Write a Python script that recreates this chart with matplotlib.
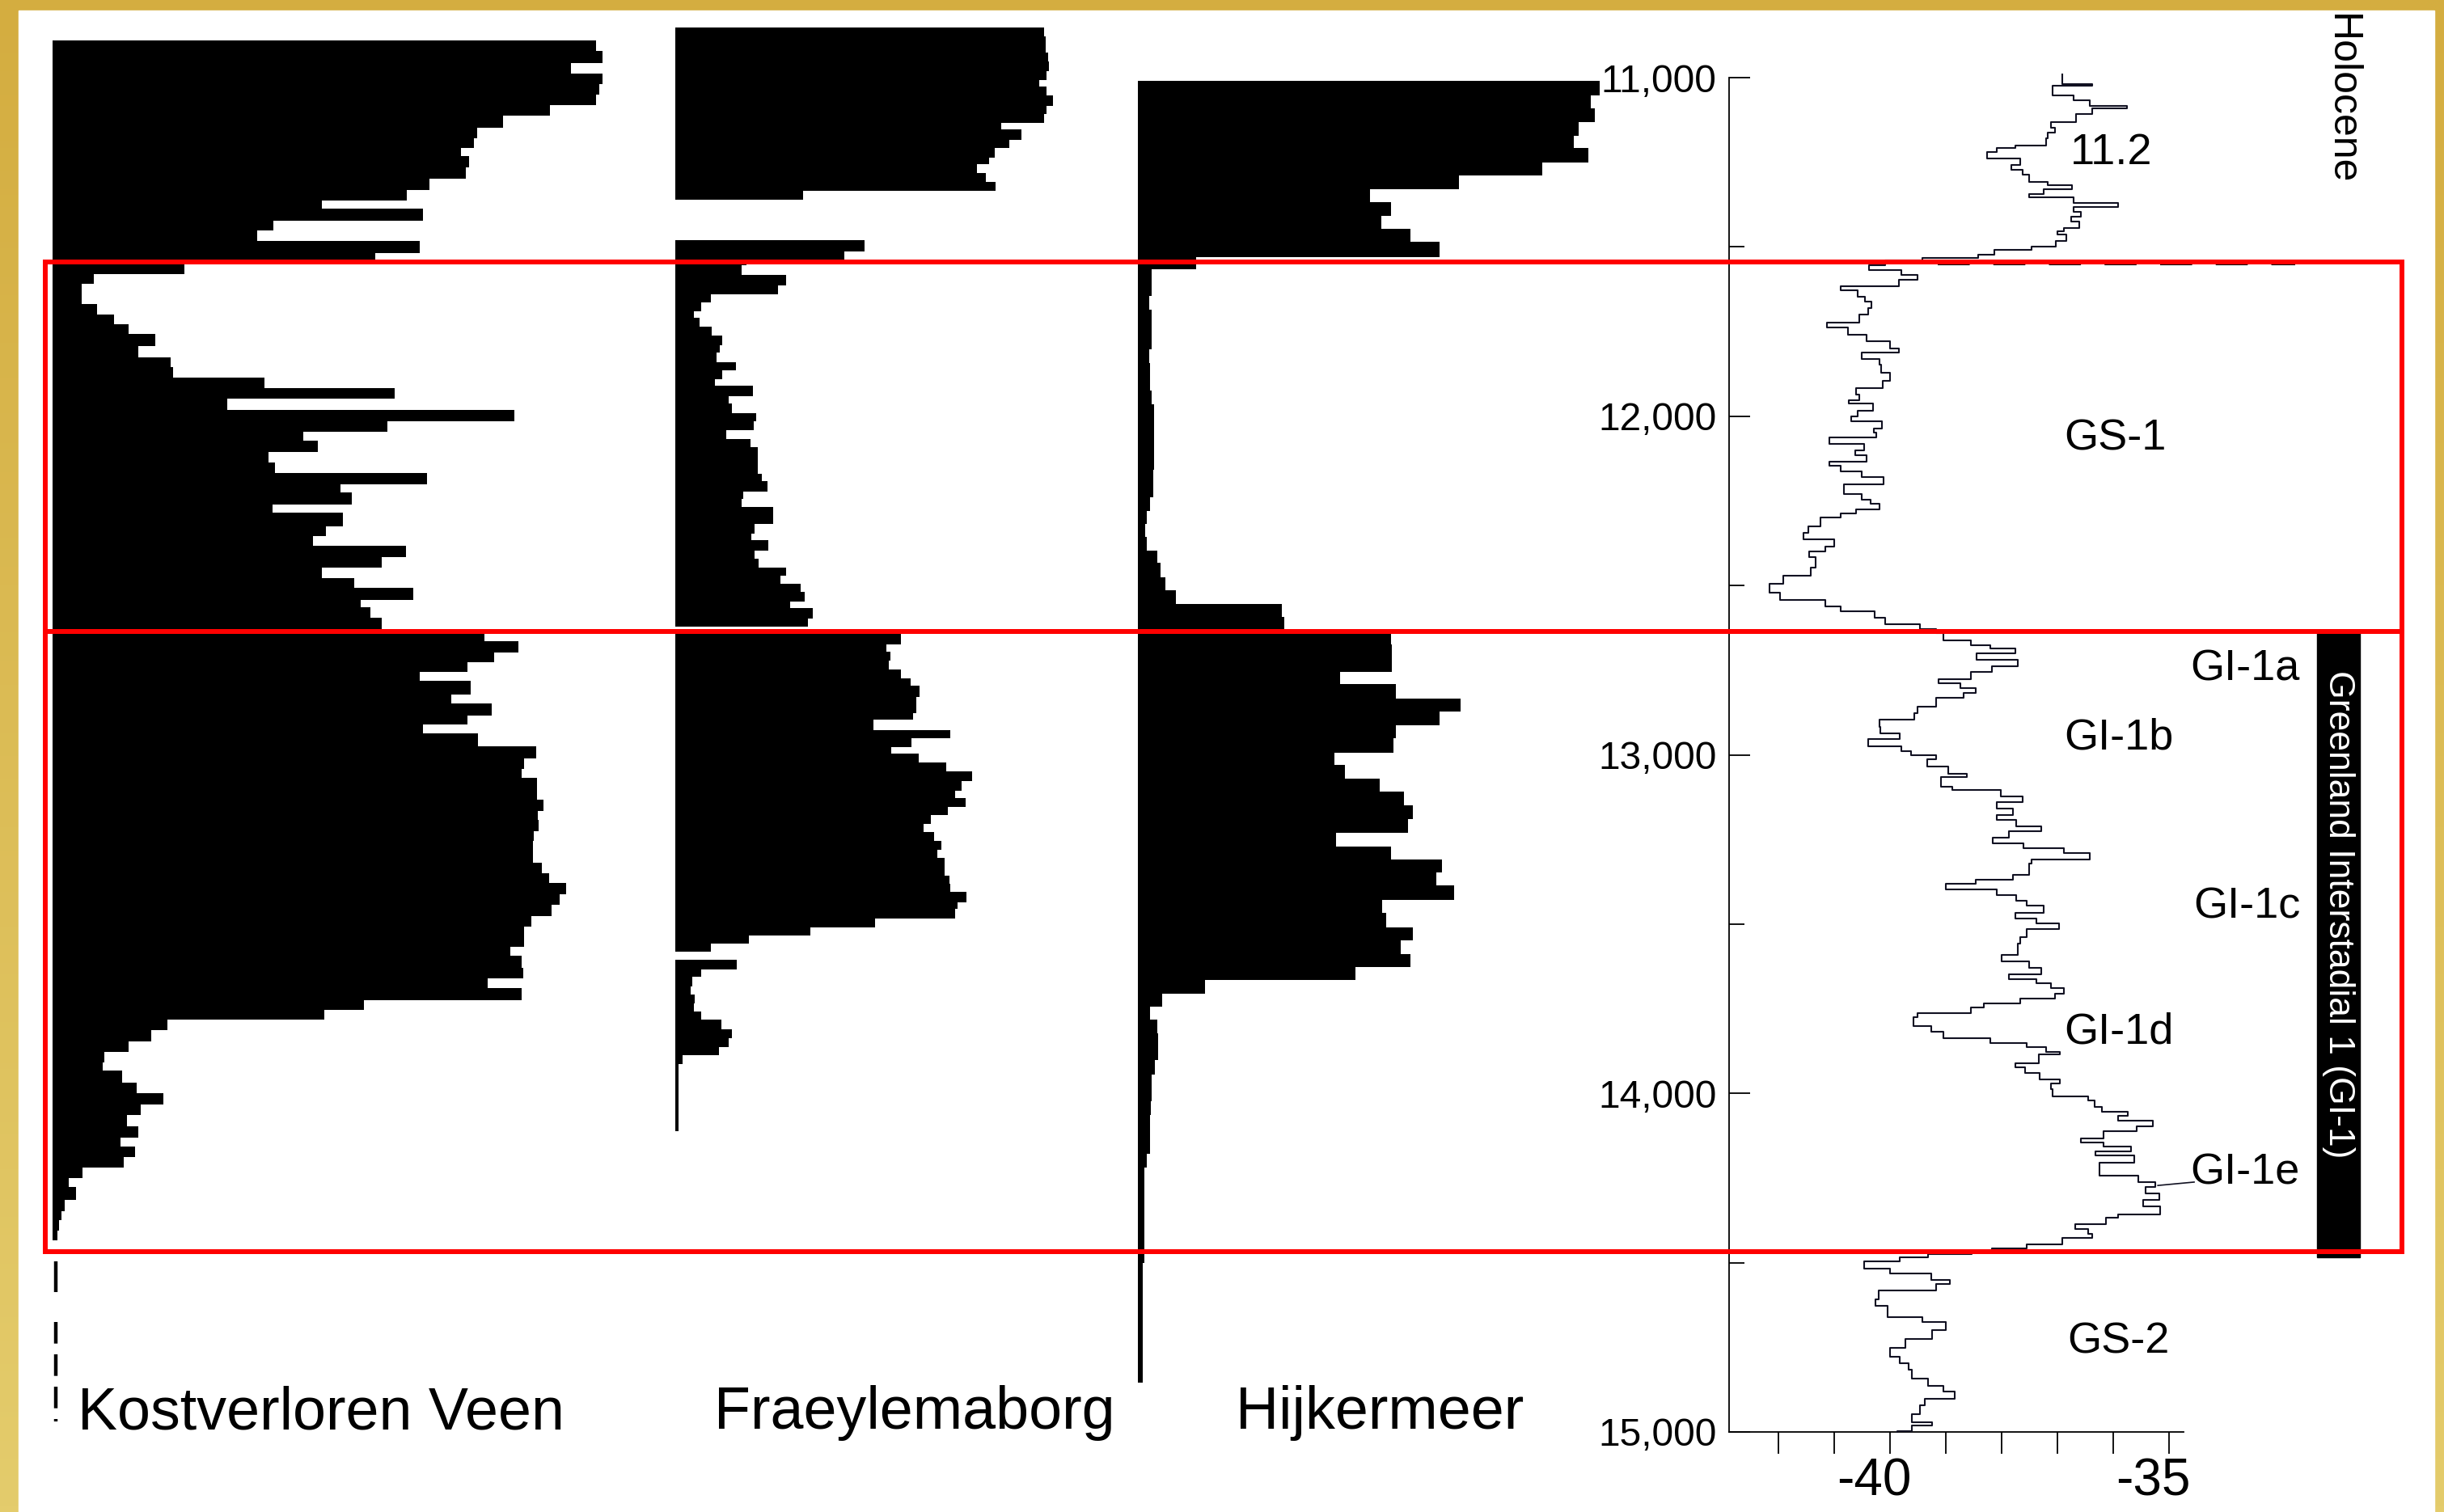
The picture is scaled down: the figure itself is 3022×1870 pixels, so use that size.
import numpy as np
import matplotlib
matplotlib.use("Agg")
import matplotlib.pyplot as plt
from matplotlib.patches import Rectangle
from matplotlib.transforms import blended_transform_factory, ScaledTranslation
from matplotlib.colors import LinearSegmentedColormap

plt.rcParams['font.family'] = ['Liberation Sans', 'DejaVu Sans']

# ---- data -------------------------------------------------------------
# pollen-type profiles: age (yr b2k) where a sample starts, value in % of panel width
kv_age = [10891, 10922, 10957, 10989, 11020, 11049, 11081, 11112, 11149, 11178,
          11207, 11232, 11264, 11298, 11331, 11364, 11388, 11422, 11451, 11483,
          11518, 11548, 11580, 11609, 11668, 11700, 11729, 11758, 11792, 11826,
          11855, 11886, 11916, 11949, 11981, 12016, 12045, 12073, 12105, 12136,
          12168, 12200, 12226, 12260, 12285, 12326, 12355, 12383, 12416, 12446,
          12478, 12507, 12542, 12565, 12596, 12633, 12665, 12697, 12726, 12756,
          12782, 12823, 12849, 12884, 12911, 12936, 12976, 13011, 13041, 13067,
          13132, 13165, 13192, 13226, 13255, 13318, 13349, 13378, 13412, 13443,
          13476, 13507, 13567, 13594, 13630, 13661, 13688, 13724, 13753, 13782,
          13814, 13847, 13878, 13908, 13933, 13969, 14000, 14032, 14063, 14097,
          14130, 14157, 14188, 14220, 14251, 14277, 14314, 14347, 14374, 14405]
kv_val = [96.0, 97.2, 91.5, 97.2, 96.5, 96.0, 87.8, 79.5, 75.0, 74.4,
          72.1, 73.5, 73.0, 66.5, 62.6, 47.5, 65.4, 39.0, 36.2, 64.8,
          57.0, 23.3, 7.3, 5.2, 7.8, 10.9, 13.4, 18.2, 15.2, 20.8,
          21.3, 37.4, 60.4, 30.9, 81.6, 59.1, 44.3, 46.8, 38.2, 39.3,
          66.2, 50.8, 52.8, 38.8, 51.3, 48.3, 46.0, 62.4, 58.1, 47.5,
          53.3, 63.7, 54.4, 56.1, 58.1, 76.3, 82.3, 78.0, 73.3, 64.9,
          73.8, 70.4, 77.5, 73.3, 65.4, 75.2, 85.4, 83.3, 82.9, 85.6,
          86.7, 85.7, 85.8, 85.0, 84.9, 86.4, 87.7, 90.7, 89.5, 88.2,
          84.5, 83.3, 80.9, 82.9, 83.1, 76.9, 82.9, 55.0, 48.0, 20.3,
          17.4, 13.4, 9.2, 8.9, 12.3, 14.8, 19.5, 15.5, 13.1, 15.2,
          12.0, 14.5, 12.6, 5.3, 2.8, 4.1, 2.1, 1.6, 1.2, 0.8]
kv_end = 14434
kv_tail_solid = [14495, 14588]
kv_tail_dashed = [14675, 14970]

fr_age = [10852, 10879, 10926, 10953, 10982, 11006, 11026, 11053, 11084, 11107,
          11133, 11154, 11183, 11207, 11237, 11255, 11281, 11308, 11334, 11361,
          11479, 11513, 11542, 11553, 11582, 11613, 11640, 11663, 11690, 11710,
          11736, 11761, 11790, 11813, 11840, 11864, 11891, 11911, 11942, 11962,
          11991, 12015, 12041, 12068, 12092, 12169, 12191, 12222, 12243, 12269,
          12319, 12346, 12366, 12397, 12420, 12447, 12470, 12494, 12518, 12547,
          12567, 12598, 12621, 12644, 12673, 12695, 12722, 12748, 12775, 12795,
          12829, 12876, 12896, 12926, 12950, 12977, 12997, 13023, 13050, 13077,
          13107, 13127, 13153, 13178, 13204, 13227, 13254, 13281, 13304, 13357,
          13381, 13404, 13435, 13455, 13484, 13509, 13533, 13558, 13582, 13605,
          13633, 13656, 13685, 13707, 13734, 13759, 13783, 13810, 13837, 13864,
          13886, 13913]
fr_val = [91.1, 91.5, 92.1, 92.3, 91.8, 90.0, 91.8, 93.3, 91.8, 91.1,
          80.5, 85.5, 82.5, 79.0, 77.5, 74.5, 76.8, 79.2, 31.6, 0.0,
          46.7, 41.8, 17.6, 16.3, 27.4, 25.3, 8.7, 6.3, 4.5, 6.0,
          9.0, 11.6, 11.0, 10.2, 14.9, 11.6, 9.8, 19.1, 13.1, 14.0,
          20.0, 19.4, 12.5, 18.5, 20.3, 21.4, 22.7, 16.7, 16.3, 24.2,
          19.6, 18.8, 23.0, 19.6, 20.5, 27.4, 25.9, 30.9, 31.9, 28.4,
          33.9, 32.7, 0.0, 55.7, 52.1, 53.1, 52.7, 55.8, 58.1, 60.4,
          59.5, 58.7, 48.9, 68.0, 58.4, 53.4, 60.2, 67.0, 73.4, 70.7,
          69.2, 71.8, 67.4, 63.2, 61.4, 64.0, 65.8, 64.7, 66.5, 67.7,
          68.0, 71.9, 69.8, 69.2, 49.4, 33.4, 18.1, 8.7, 0.0, 15.1,
          6.3, 4.2, 3.8, 4.8, 4.5, 6.3, 11.3, 14.0, 13.1, 10.8,
          1.8, 0.7]
fr_end = 14112

hj_age = [11010, 11053, 11091, 11131, 11171, 11207, 11251, 11290, 11329, 11368,
          11408, 11446, 11485, 11529, 11566, 11645, 11685, 11803, 11843, 11924,
          11964, 12159, 12239, 12279, 12319, 12357, 12397, 12433, 12476, 12514,
          12555, 12594, 12636, 12674, 12715, 12755, 12792, 12833, 12873, 12912,
          12952, 12993, 13030, 13070, 13109, 13149, 13190, 13231, 13270, 13310,
          13348, 13385, 13428, 13468, 13509, 13549, 13589, 13626, 13665, 13706,
          13743, 13783, 13823, 13901, 13944, 13984, 14024, 14065, 14179, 14219,
          14500]
hj_val = [95.1, 93.4, 94.1, 90.9, 89.9, 92.8, 83.4, 66.1, 47.9, 52.1,
          50.2, 56.1, 62.2, 12.0, 2.9, 2.4, 2.8, 2.3, 2.5, 2.9,
          3.4, 3.1, 2.5, 1.9, 1.5, 1.9, 4.0, 4.6, 5.6, 7.9,
          29.7, 30.1, 52.1, 52.4, 52.3, 41.6, 53.1, 66.5, 62.2, 53.1,
          52.7, 40.5, 42.6, 49.9, 54.8, 56.7, 55.6, 40.9, 52.1, 62.7,
          61.5, 65.2, 50.4, 51.2, 56.7, 54.2, 56.2, 44.9, 13.9, 5.0,
          2.5, 4.0, 4.1, 3.5, 2.9, 2.8, 2.6, 2.5, 1.8, 1.3,
          1.0]
hj_end = 14855

# Greenland ice-core d18O (per mil), age where each value starts
d18o_age = [10990, 11018, 11025, 11053, 11068, 11084, 11091, 11108, 11132, 11147,
            11163, 11180, 11200, 11207, 11220, 11239, 11259, 11272, 11286, 11308,
            11318, 11329, 11345, 11354, 11371, 11382, 11397, 11411, 11426, 11443,
            11453, 11463, 11483, 11500, 11509, 11522, 11532, 11539, 11555, 11568,
            11582, 11597, 11617, 11628, 11647, 11661, 11680, 11700, 11724, 11739,
            11759, 11779, 11799, 11812, 11832, 11847, 11871, 11895, 11917, 11937,
            11953, 11963, 11983, 12000, 12016, 12036, 12049, 12062, 12082, 12101,
            12115, 12134, 12147, 12163, 12180, 12200, 12229, 12246, 12259, 12276,
            12286, 12299, 12325, 12345, 12364, 12384, 12400, 12417, 12447, 12470,
            12496, 12522, 12542, 12562, 12575, 12595, 12614, 12628, 12641, 12661,
            12676, 12687, 12700, 12720, 12739, 12755, 12776, 12789, 12803, 12818,
            12832, 12858, 12878, 12897, 12917, 12937, 12953, 12974, 12990,
            13000, 13013, 13035, 13057, 13065, 13094, 13103, 13123, 13140, 13159,
            13179, 13192, 13211, 13225, 13244, 13261, 13277, 13290, 13309, 13322,
            13355, 13368, 13381, 13397, 13414, 13431, 13446, 13466, 13483, 13499,
            13514, 13538, 13557, 13590, 13610, 13629, 13649, 13662, 13675, 13688,
            13705, 13721, 13734, 13747, 13764, 13775, 13802, 13819, 13836, 13851,
            13864, 13877, 13884, 13910, 13923, 13940, 13958, 13971, 13988, 14008,
            14021, 14040, 14054, 14067, 14080, 14097, 14112, 14132, 14145, 14158,
            14171, 14184, 14204, 14243, 14262, 14276, 14295, 14315, 14334, 14358,
            14367, 14386, 14400, 14416, 14426, 14445, 14458, 14467, 14475, 14484,
            14497, 14517, 14533, 14550, 14563, 14582, 14608, 14628, 14661, 14676,
            14700, 14726, 14752, 14778, 14798, 14817, 14843, 14863, 14880, 14902,
            14922, 14948, 14971, 14980, 14997]
d18o_val = [-36.92, -36.38, -37.08, -36.71, -36.42, -35.76, -36.37, -36.66, -37.11, -37.05,
            -37.18, -37.21, -37.76, -38.08, -38.26, -37.66, -37.82, -37.63, -37.50, -37.18,
            -36.74, -37.24, -37.50, -36.71, -35.92, -36.71, -36.58, -36.76, -36.61, -36.89,
            -37.00, -36.84, -37.03, -37.47, -38.13, -38.42, -39.42, -40.08, -40.37, -39.79,
            -39.50, -39.84, -40.89, -40.58, -40.45, -40.34, -40.39, -40.55, -41.13, -40.76,
            -40.42, -40.00, -39.84, -40.50, -40.19, -40.16, -40.00, -40.13, -40.61, -40.55,
            -40.74, -40.30, -40.58, -40.70, -40.15, -40.29, -40.24, -41.08, -40.46, -40.63,
            -40.42, -41.08, -40.89, -40.50, -40.11, -40.82, -40.50, -40.35, -40.19, -40.61,
            -40.89, -41.24, -41.46, -41.55, -41.00, -41.16, -41.45, -41.34, -41.42, -41.92,
            -42.16, -41.97, -41.16, -40.89, -40.28, -40.08, -39.47, -39.18, -39.05, -38.55,
            -38.21, -37.76, -38.45, -37.71, -38.18, -38.55, -39.13, -38.74, -38.47, -38.68,
            -39.18, -39.50, -39.56, -40.19, -40.18, -39.82, -40.39, -39.79, -39.63,
            -39.18, -39.34, -38.95, -38.63, -39.08, -38.89, -38.01, -37.63, -38.08, -37.79,
            -38.08, -37.74, -37.29, -37.87, -38.16, -37.61, -36.89, -36.42, -37.47, -37.50,
            -37.79, -38.47, -39.00, -38.08, -37.74, -37.55, -37.24, -37.76, -37.37, -36.97,
            -37.55, -37.66, -37.71, -38.00, -37.50, -37.29, -37.87, -37.37, -37.11, -36.89,
            -37.05, -37.66, -38.32, -38.55, -39.50, -39.58, -39.26, -39.04, -38.21, -37.55,
            -37.21, -36.95, -37.34, -37.76, -37.58, -37.32, -36.95, -37.11, -37.08, -36.45,
            -36.34, -36.21, -35.74, -35.92, -35.29, -35.58, -36.18, -36.58, -36.18, -35.68,
            -36.32, -35.63, -36.24, -35.55, -35.24, -35.42, -35.18, -35.47, -35.16, -35.92,
            -36.13, -36.68, -36.45, -36.37, -36.92, -37.55, -38.18, -38.53, -39.32, -39.82,
            -40.46, -40.00, -39.26, -38.93, -39.18, -40.21, -40.26, -40.04, -39.42, -39.00,
            -39.24, -39.72, -40.00, -39.83, -39.66, -39.61, -39.32, -39.05, -38.84, -39.37,
            -39.47, -39.61, -39.24, -39.61, -39.87]
d18o_end = 15000

site_names = ["Kostverloren Veen", "Fraeylemaborg", "Hijkermeer"]
age_ticks = [11000, 12000, 13000, 14000, 15000]
age_minor = [11500, 12500, 13500, 14500]
d18o_ticks = [-42, -41, -40, -39, -38, -37, -36, -35]
d18o_ticklabels = ["", "", "-40", "", "", "", "", "-35"]
zone_bounds = [11544, 12636, 14467]
gi1_bar = [12640, 14484]
zone_labels = [("11.2", -36.04, 11222), ("GS-1", -35.97, 12067),
               ("GI-1a", -33.64, 12748), ("GI-1b", -35.90, 12949),
               ("GI-1c", -33.61, 13450), ("GI-1d", -35.90, 13820),
               ("GI-1e", -33.64, 14234), ("GS-2", -35.91, 14733)]

# ---- layout -----------------------------------------------------------
W, H = 3022, 1870
AGE_TOP, AGE_BOT = 10800, 15100
PX_PER_YR = 0.41875
y_top = 96 + (AGE_TOP - 11000) * PX_PER_YR
y_bot = 96 + (AGE_BOT - 11000) * PX_PER_YR

fig = plt.figure(figsize=(W / 100, H / 100), dpi=100)


def box(x0, x1):
    return [x0 / W, 1 - y_bot / H, (x1 - x0) / W, (y_bot - y_top) / H]


# gold frame
bg = fig.add_axes([0, 0, 1, 1])
gold = LinearSegmentedColormap.from_list("gold", ["#d4ad40", "#e4cc6c"])
bg.imshow(np.linspace(0, 1, 256).reshape(-1, 1), cmap=gold, aspect="auto",
          extent=[0, 1, 0, 1])
bg.add_patch(Rectangle((23 / W, 0), (3010 - 23) / W, 1 - 13 / H,
                       transform=bg.transAxes, color="white"))
bg.set_xlim(0, 1)
bg.set_ylim(0, 1)
bg.axis("off")


def profile(x0, x1, ages, vals, end):
    ax = fig.add_axes(box(x0, x1))
    ax.patch.set_visible(False)
    y = list(ages) + [end]
    x = list(vals) + [vals[-1]]
    ax.fill_betweenx(y, 0, x, step="post", color="black", lw=0)
    ax.set_xlim(0, 100)
    ax.set_ylim(AGE_BOT, AGE_TOP)
    ax.axis("off")
    return ax


ax_kv = profile(65, 765, kv_age, kv_val, kv_end)
ax_kv.plot([0.5, 0.5], kv_tail_solid, color="black", lw=3.2, solid_capstyle="butt")
ax_kv.plot([0.5, 0.5], kv_tail_dashed, color="black", lw=3.2, ls=(0, (6, 3)))
ax_fr = profile(835, 1335, fr_age, fr_val, fr_end)
ax_hj = profile(1407, 2007, hj_age, hj_val, hj_end)

for name, x in zip(site_names, [96, 883, 1528]):
    fig.text(x / W, 1 - 1767 / H, name, fontsize=53, ha="left", va="baseline")

# d18O panel
ax = fig.add_axes(box(2138, 2700))
ax.patch.set_visible(False)
ax.plot(d18o_val + [d18o_val[-1]], d18o_age + [d18o_end], drawstyle="steps-pre",
        color="#111122", lw=1.5, zorder=6, clip_on=False)
ax.set_xlim(-42.884, -34.739)
ax.set_ylim(AGE_BOT, AGE_TOP)
ax.spines["top"].set_visible(False)
ax.spines["right"].set_visible(False)
ax.spines["left"].set_bounds(11000, 15000)
ax.spines["bottom"].set_position(("data", 15000))
for s in ("left", "bottom"):
    ax.spines[s].set_linewidth(1.3)
ax.set_yticks(age_ticks)
ax.set_yticklabels([f"{a:,}" for a in age_ticks])
ax.set_yticks(age_minor, minor=True)
ax.tick_params(axis="y", which="major", direction="in", length=19, width=1.3,
               labelsize=34.5, pad=11)
ax.tick_params(axis="y", which="minor", direction="in", length=13.5, width=1.3)
ax.set_xticks(d18o_ticks)
ax.set_xticklabels(d18o_ticklabels)
ax.tick_params(axis="x", direction="out", length=19.5, width=1.3,
               labelsize=46, pad=3)
shift = ScaledTranslation(-20 / 100, 0, fig.dpi_scale_trans)
for lab in ax.get_xticklabels():
    lab.set_transform(lab.get_transform() + shift)

for txt, v, a in zone_labels:
    ax.text(v, a, txt, fontsize=39, ha="center", va="center", clip_on=False)
ax.plot([-35.2, -34.55], [14272, 14262], color="#111122", lw=1.2, clip_on=False)
ax.plot([-39.14, -32.74], [11552, 11552], color="black", lw=1.5,
        ls=(0, (19, 14)), clip_on=False, zorder=4)

# zone boxes and GI-1 bar across the whole figure
tr = blended_transform_factory(fig.transFigure, ax.transData)
for a0, a1 in zip(zone_bounds[:-1], zone_bounds[1:]):
    ax.add_patch(Rectangle((56 / W, a0), (2970 - 56) / W, a1 - a0, transform=tr,
                           fill=False, ec="#ff0000", lw=4.3, clip_on=False, zorder=8))
ax.add_patch(Rectangle((2865 / W, gi1_bar[0]), 53 / W, gi1_bar[1] - gi1_bar[0],
                       transform=tr, color="black", clip_on=False, zorder=7))
ax.text(2891.5 / W, (gi1_bar[0] + gi1_bar[1]) / 2 - 92, "Greenland Interstadial 1 (GI-1)",
        transform=tr, rotation=-90, color="white", fontsize=32,
        ha="center", va="center", zorder=9)
fig.text(2895 / W, 1 - 123 / H, "Holocene", rotation=-90, fontsize=36,
         ha="center", va="center")

fig.savefig("out.png", dpi=100)
